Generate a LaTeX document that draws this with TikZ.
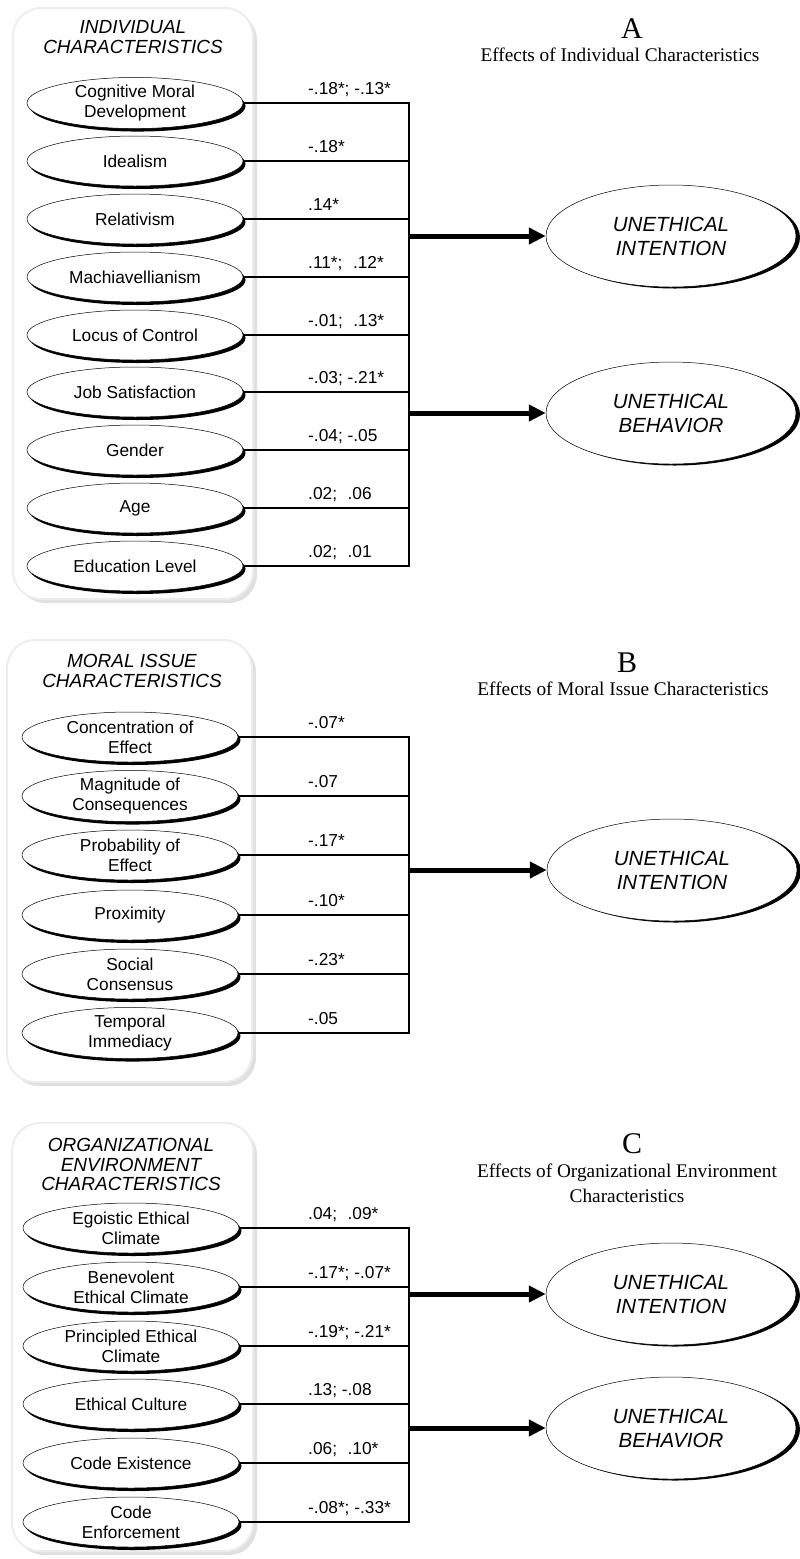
\documentclass[tikz,border=0pt]{standalone}
\usepackage{fontspec}
\setmainfont{Liberation Serif}
\setsansfont{Liberation Sans}
\usetikzlibrary{shapes.geometric,shadows,arrows.meta}

\begin{document}
\begin{tikzpicture}[x=1pt,y=-1pt,line join=miter,
  factor/.style={ellipse,draw,line width=.5pt,fill=white,minimum width=216pt,minimum height=50pt,inner sep=0pt,align=center,font=\sffamily\fontsize{17.3}{20}\selectfont,drop shadow={shadow xshift=2.5pt,shadow yshift=-3pt,fill=black,opacity=1}},
  outcome/.style={ellipse,draw,line width=.5pt,fill=white,minimum width=250pt,minimum height=102pt,inner sep=0pt,align=center,font=\sffamily\itshape\fontsize{20.5}{24}\selectfont,drop shadow={shadow xshift=4pt,shadow yshift=-1.5pt,fill=black,opacity=1}},
  groupbox/.style={draw=gray!14,line width=2pt,fill=white,rounded corners=28pt,drop shadow={shadow xshift=4pt,shadow yshift=-4pt,fill=gray!24,opacity=1}},
  grouptitle/.style={anchor=base,inner sep=0pt,font=\sffamily\itshape\fontsize{19}{20}\selectfont},
  coef/.style={anchor=base west,inner sep=0pt,font=\sffamily\fontsize{17.3}{20}\selectfont},
  panelletter/.style={anchor=base,inner sep=0pt,font=\fontsize{30}{30}\selectfont},
  paneltitle/.style={anchor=base,inner sep=0pt,font=\fontsize{19.3}{23}\selectfont},
  link/.style={line width=2.2pt},
  effect/.style={line width=5pt,-{Triangle[length=17pt,width=16pt]}}]
  \useasboundingbox (0,0) rectangle (800,1559);

  % A: individual characteristics
  \draw[groupbox] (13,8) rectangle (253,599);
  \node[grouptitle] (tA1) at (133,33) {INDIVIDUAL};
  \node[grouptitle] (tA2) at (133,53) {CHARACTERISTICS};
  \node[factor] (cmd) at (135,103) {Cognitive Moral\\Development};
  \node[factor] (ide) at (135,161) {Idealism};
  \node[factor] (rel) at (135,219) {Relativism};
  \node[factor] (mac) at (135,277) {Machiavellianism};
  \node[factor] (loc) at (135,335) {Locus of Control};
  \node[factor] (job) at (135,392) {Job Satisfaction};
  \node[factor] (gen) at (135,450) {Gender};
  \node[factor] (age) at (135,508) {Age};
  \node[factor] (edu) at (135,566) {Education Level};
  \coordinate (busA) at (409,0);
  \draw[link] (cmd.east) -- (cmd.east -| busA) -- (edu.east -| busA) -- (edu.east);
  \draw[link] (ide.east) -- (ide.east -| busA);
  \draw[link] (rel.east) -- (rel.east -| busA);
  \draw[link] (mac.east) -- (mac.east -| busA);
  \draw[link] (loc.east) -- (loc.east -| busA);
  \draw[link] (job.east) -- (job.east -| busA);
  \draw[link] (gen.east) -- (gen.east -| busA);
  \draw[link] (age.east) -- (age.east -| busA);
  \node[coef] (kcmd) at (308,94) {-.18*; -.13*};
  \node[coef] (kide) at (308,152) {-.18*};
  \node[coef] (krel) at (308,210) {.14*};
  \node[coef] (kmac) at (308,268) {.11*; \phantom{-}.12*};
  \node[coef] (kloc) at (308,326) {-.01; \phantom{-}.13*};
  \node[coef] (kjob) at (308,383) {-.03; -.21*};
  \node[coef] (kgen) at (308,441) {-.04; -.05};
  \node[coef] (kage) at (308,499) {.02; \phantom{-}.06};
  \node[coef] (kedu) at (308,557) {.02; \phantom{-}.01};
  \node[outcome] (uiA) at (671,236) {UNETHICAL\\INTENTION};
  \node[outcome] (ubA) at (671,413) {UNETHICAL\\BEHAVIOR};
  \draw[effect] (uiA.west -| busA) -- (uiA.west);
  \draw[effect] (ubA.west -| busA) -- (ubA.west);
  \node[panelletter] (pA) at (632,38) {A};
  \node[paneltitle] (pAt) at (620,61) {Effects of Individual Characteristics};

  % B: moral issue characteristics
  \draw[groupbox] (7,640) rectangle (252,1082);
  \node[grouptitle] (tB1) at (132,667) {MORAL ISSUE};
  \node[grouptitle] (tB2) at (132,687) {CHARACTERISTICS};
  \node[factor] (coe) at (130,737) {Concentration of\\Effect};
  \node[factor] (mag) at (130,796) {Magnitude of\\Consequences};
  \node[factor] (pro) at (130,855) {Probability of\\Effect};
  \node[factor] (prx) at (130,915) {Proximity};
  \node[factor] (soc) at (130,974) {Social\\Consensus};
  \node[factor] (tem) at (130,1033) {Temporal\\Immediacy};
  \coordinate (busB) at (409,0);
  \draw[link] (coe.east) -- (coe.east -| busB) -- (tem.east -| busB) -- (tem.east);
  \draw[link] (mag.east) -- (mag.east -| busB);
  \draw[link] (pro.east) -- (pro.east -| busB);
  \draw[link] (prx.east) -- (prx.east -| busB);
  \draw[link] (soc.east) -- (soc.east -| busB);
  \node[coef] (kcoe) at (308,728) {-.07*};
  \node[coef] (kmag) at (308,787) {-.07};
  \node[coef] (kpro) at (308,846) {-.17*};
  \node[coef] (kprx) at (308,906) {-.10*};
  \node[coef] (ksoc) at (308,965) {-.23*};
  \node[coef] (ktem) at (308,1024) {-.05};
  \node[outcome] (uiB) at (672,870) {UNETHICAL\\INTENTION};
  \draw[effect] (uiB.west -| busB) -- (uiB.west);
  \node[panelletter] (pB) at (627,672) {B};
  \node[paneltitle] (pBt) at (623,695) {Effects of Moral Issue Characteristics};

  % C: organizational environment characteristics
  \draw[groupbox] (12,1123) rectangle (253,1551);
  \node[grouptitle] (tC1) at (131,1151) {ORGANIZATIONAL};
  \node[grouptitle] (tC2) at (131,1171) {ENVIRONMENT};
  \node[grouptitle] (tC3) at (131,1190) {CHARACTERISTICS};
  \node[factor] (ego) at (131,1228) {Egoistic Ethical\\Climate};
  \node[factor] (ben) at (131,1287) {Benevolent\\Ethical Climate};
  \node[factor] (pri) at (131,1346) {Principled Ethical\\Climate};
  \node[factor] (cul) at (131,1404) {Ethical Culture};
  \node[factor] (cex) at (131,1463) {Code Existence};
  \node[factor] (cen) at (131,1522) {Code\\Enforcement};
  \coordinate (busC) at (409,0);
  \draw[link] (ego.east) -- (ego.east -| busC) -- (cen.east -| busC) -- (cen.east);
  \draw[link] (ben.east) -- (ben.east -| busC);
  \draw[link] (pri.east) -- (pri.east -| busC);
  \draw[link] (cul.east) -- (cul.east -| busC);
  \draw[link] (cex.east) -- (cex.east -| busC);
  \node[coef] (kego) at (308,1219) {.04; \phantom{-}.09*};
  \node[coef] (kben) at (308,1278) {-.17*; -.07*};
  \node[coef] (kpri) at (308,1337) {-.19*; -.21*};
  \node[coef] (kcul) at (308,1395) {.13; -.08};
  \node[coef] (kcex) at (308,1454) {.06; \phantom{-}.10*};
  \node[coef] (kcen) at (308,1513) {-.08*; -.33*};
  \node[outcome] (uiC) at (671,1294) {UNETHICAL\\INTENTION};
  \node[outcome] (ubC) at (671,1428) {UNETHICAL\\BEHAVIOR};
  \draw[effect] (uiC.west -| busC) -- (uiC.west);
  \draw[effect] (ubC.west -| busC) -- (ubC.west);
  \node[panelletter] (pC) at (632,1153) {C};
  \node[paneltitle] (pCt1) at (627,1177) {Effects of Organizational Environment};
  \node[paneltitle] (pCt2) at (627,1202) {Characteristics};
\end{tikzpicture}
\end{document}
